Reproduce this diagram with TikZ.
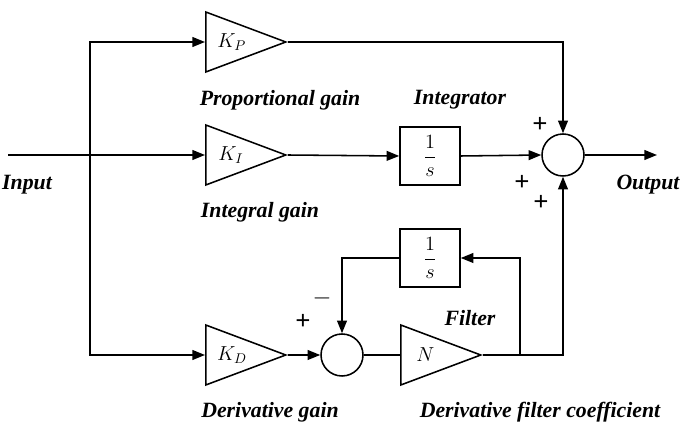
\documentclass[tikz,border=0pt]{standalone}
\usepackage{fontspec}
\usepackage{amsmath}
\setmainfont{Liberation Serif}
\usetikzlibrary{arrows.meta, positioning, shapes.geometric}

\begin{document}
\begin{tikzpicture}[x=0.025cm, y=-0.025cm, line width=1.1pt,
    >={Triangle[length=9pt, width=7pt]},
    gain/.style={draw, isosceles triangle, isosceles triangle stretches,
      minimum width=60*0.025cm, minimum height=80*0.025cm, inner sep=0pt,
      anchor=west, font=\Large},
    blk/.style={draw, minimum width=60*0.025cm, minimum height=58*0.025cm, font=\Large},
    sum/.style={draw, circle, minimum size=42*0.025cm, inner sep=0pt},
    lbl/.style={font=\fontsize{15.5}{17}\selectfont\bfseries\itshape},
    sgn/.style={font=\fontsize{19}{19}\selectfont\bfseries}]
  \useasboundingbox (0,0) rectangle (685,431);
  % gains
  \node[gain] (kp) at (205,42) {$\;K_P$};
  \node[gain] (ki) at (205,155) {$\;K_I$};
  \node[gain] (kd) at (205,355) {$\;K_D$};
  \node[gain] (nf) at (400,355) {$\;N$};
  % blocks
  \node[blk] (int) at (430,156) {$\dfrac{1}{s}$};
  \node[blk] (flt) at (430,258) {$\dfrac{1}{s}$};
  \node[sum] (s1) at (563,155) {};
  \node[sum] (s2) at (342,355) {};
  % points
  \coordinate (in) at (8,155);
  \coordinate (j) at (90,155);
  \coordinate (out) at (657,155);
  \coordinate (b) at (520,355);
  % connections
  \draw (in) -- (j);
  \draw[->] (j) |- (kp.west);
  \draw[->] (j) -- (ki.west);
  \draw[->] (j) |- (kd.west);
  \draw[->] (kp.east) -| (s1.north);
  \draw[->] (ki.east) -- (int.west);
  \draw[->] (int.east) -- (s1.west);
  \draw[->] (s1.east) -- (out);
  \draw[->] (kd.east) -- (s2.west);
  \draw (s2.east) -- (nf.west);
  \draw[->] (nf.east) -| (s1.south);
  \draw[->] (b) |- (flt.east);
  \draw[->] (flt.west) -| (s2.north);
  % labels
  \node[lbl] at (280,100) {Proportional gain};
  \node[lbl] at (460,100) {Integrator};
  \node[lbl] at (260,212) {Integral gain};
  \node[lbl] at (470,318) {Filter};
  \node[lbl] at (270,412) {Derivative gain};
  \node[lbl] at (540,412) {Derivative filter coefficient};
  \node[lbl] at (27,185) {Input};
  \node[lbl] at (648,185) {Output};
  \node[sgn] at (540,125) {+};
  \node[sgn] at (522,183) {+};
  \node[sgn] at (541,203) {+};
  \node[sgn] at (303,322) {+};
  \node[sgn] at (322,298) {$-$};
\end{tikzpicture}
\end{document}
